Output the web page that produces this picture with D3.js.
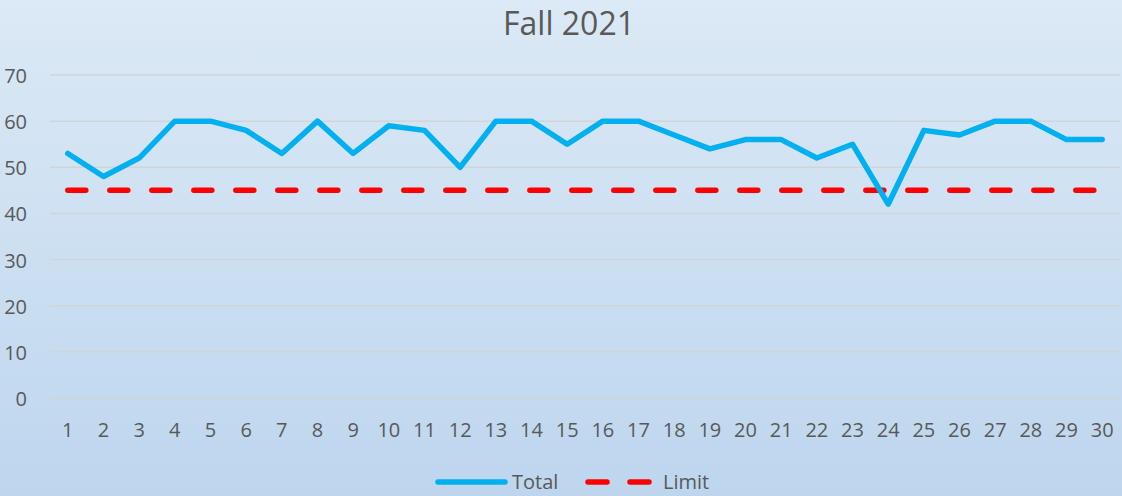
<!DOCTYPE html>
<html>
<head>
<meta charset="utf-8">
<script src="https://cdn.jsdelivr.net/npm/d3@7"></script>
<style>
  html, body { margin: 0; padding: 0; }
  body { width: 1122px; height: 496px; overflow: hidden; }
</style>
</head>
<body>
<div id="chart"></div>
<script>
const days = d3.range(1, 31).map(String);
const total = [53, 48, 52, 60, 60, 58, 53, 60, 53, 59, 58, 50, 60, 60, 55, 60, 60, 57, 54, 56, 56, 52, 55, 42, 58, 57, 60, 60, 56, 56];
const limit = days.map(() => 45);
const yTicks = [0, 10, 20, 30, 40, 50, 60, 70];

const width = 1122, height = 496;
const margin = { top: 75, right: 2, bottom: 98, left: 50 };
const font = "'Open Sans', sans-serif";

const svg = d3.select("#chart").append("svg")
    .attr("width", width)
    .attr("height", height);

const defs = svg.append("defs");
const grad = defs.append("linearGradient")
    .attr("id", "bg").attr("x1", 0).attr("y1", 0).attr("x2", 0).attr("y2", 1);
grad.append("stop").attr("offset", "0%").attr("stop-color", "#dce9f6");
grad.append("stop").attr("offset", "100%").attr("stop-color", "#bdd6ee");

svg.append("rect").attr("width", width).attr("height", height).attr("fill", "url(#bg)");

const x = d3.scaleBand()
    .domain(days)
    .range([margin.left, width - margin.right]);

const y = d3.scaleLinear()
    .domain([0, 70])
    .range([height - margin.bottom, margin.top]);

// gridlines
svg.append("g")
    .selectAll("line")
    .data(yTicks)
    .join("line")
    .attr("x1", margin.left)
    .attr("x2", width - margin.right)
    .attr("y1", d => y(d))
    .attr("y2", d => y(d))
    .attr("stroke", "#d1d5da")
    .attr("stroke-width", 1.5);

// y labels
svg.append("g")
    .selectAll("text")
    .data(yTicks)
    .join("text")
    .attr("x", 27)
    .attr("y", d => y(d) + 8)
    .attr("text-anchor", "end")
    .attr("font-family", font)
    .attr("font-size", 20)
    .attr("fill", "#595959")
    .text(d => d);

// x labels
svg.append("g")
    .selectAll("text")
    .data(days)
    .join("text")
    .attr("x", d => x(d) + x.bandwidth() / 2)
    .attr("y", y(0) + 39)
    .attr("text-anchor", "middle")
    .attr("font-family", font)
    .attr("font-size", 20)
    .attr("fill", "#595959")
    .text(d => d);

const line = d3.line()
    .x((d, i) => x(days[i]) + x.bandwidth() / 2)
    .y(d => y(d));

svg.append("path")
    .datum(limit)
    .attr("d", line)
    .attr("fill", "none")
    .attr("stroke", "#ff0000")
    .attr("stroke-width", 5.5)
    .attr("stroke-linecap", "round")
    .attr("stroke-dasharray", "18 24");

svg.append("path")
    .datum(total)
    .attr("d", line)
    .attr("fill", "none")
    .attr("stroke", "#00b0f0")
    .attr("stroke-width", 5.5)
    .attr("stroke-linejoin", "round")
    .attr("stroke-linecap", "round");

// title
svg.append("text")
    .attr("x", 569)
    .attr("y", 35)
    .attr("text-anchor", "middle")
    .attr("font-family", font)
    .attr("font-size", 32)
    .attr("fill", "#595959")
    .text("Fall 2021");

// legend
const lg = svg.append("g");
lg.append("line")
    .attr("x1", 438).attr("x2", 505).attr("y1", 482).attr("y2", 482)
    .attr("stroke", "#00b0f0").attr("stroke-width", 5.5).attr("stroke-linecap", "round");
lg.append("text")
    .attr("x", 512).attr("y", 489)
    .attr("font-family", font).attr("font-size", 20).attr("fill", "#595959")
    .text("Total");
lg.append("line")
    .attr("x1", 588).attr("x2", 650).attr("y1", 482).attr("y2", 482)
    .attr("stroke", "#ff0000").attr("stroke-width", 5.5).attr("stroke-linecap", "round")
    .attr("stroke-dasharray", "19 23");
lg.append("text")
    .attr("x", 663).attr("y", 489)
    .attr("font-family", font).attr("font-size", 20).attr("fill", "#595959")
    .text("Limit");
</script>
</body>
</html>
